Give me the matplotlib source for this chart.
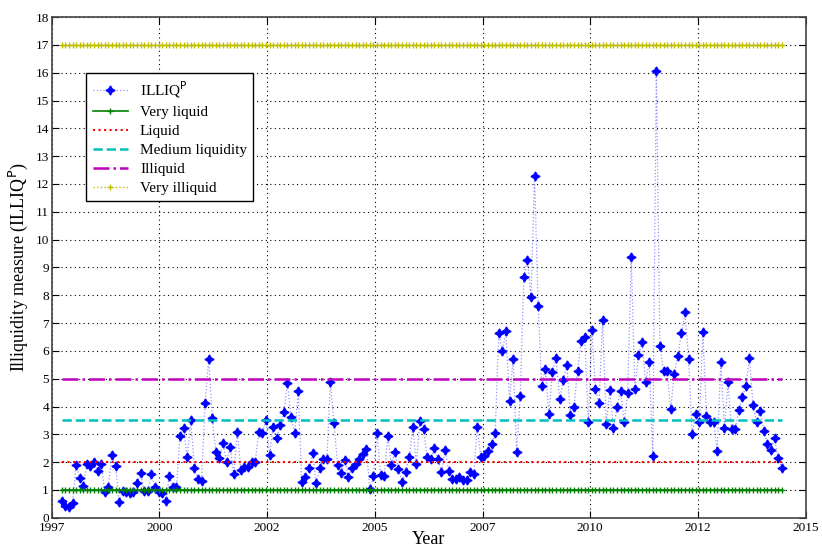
"""Illiquidity measure ILLIQ^P with liquidity class thresholds
"""
import numpy as np
import matplotlib
matplotlib.use("Agg")
import matplotlib.pyplot as plt

plt.rcParams['font.family'] = ['Liberation Serif', 'DejaVu Serif']

# monthly ILLIQ^P values
illiq = [
    0.60, 0.44, 0.40, 0.53, 1.90, 1.43, 1.13, 1.93, 1.87, 1.99, 1.69, 1.93, 0.92, 1.12, 2.27, 1.87,
    0.58, 0.98, 0.92, 0.88, 0.92, 1.24, 1.61, 0.95, 0.98, 1.57, 1.10, 0.93, 0.88, 0.62, 1.49,
    1.10, 1.10, 2.95, 3.21, 2.17, 3.51, 1.78, 1.39, 1.33, 4.11, 5.71, 3.60, 2.37, 2.15, 2.68, 2.00,
    2.55, 1.57, 3.10, 1.73, 1.81, 1.81, 1.99, 1.99, 3.10, 3.04, 3.53, 2.26, 3.27, 2.88, 3.32, 3.80, 4.85,
    3.62, 3.03, 4.56, 1.28, 1.48, 1.78, 2.32, 1.24, 1.79, 2.11, 2.11, 4.89, 3.42, 1.91, 1.61, 2.09,
    1.45, 1.79, 1.95, 2.13, 2.31, 2.49, 1.05, 1.49, 3.06, 1.55, 1.49, 2.94, 1.91, 2.35, 1.75, 1.30, 1.66,
    2.17, 3.25, 1.93, 3.49, 3.19, 2.19, 2.11, 2.51, 2.13, 1.63, 2.43, 1.69, 1.41, 1.41, 1.45, 1.35,
    1.35, 1.63, 1.57, 3.25, 2.17, 2.21, 2.41, 2.65, 3.03, 6.64, 6.01, 6.70, 4.21, 5.71, 2.37, 4.39, 8.67,
    9.27, 7.95, 12.27, 7.60, 4.75, 5.35, 3.73, 5.25, 5.74, 4.27, 4.95, 5.50, 3.71, 3.97, 5.29, 6.34,
    6.49, 3.43, 6.75, 4.63, 4.11, 7.11, 3.37, 4.59, 3.21, 3.97, 4.57, 3.43, 4.48, 9.36, 4.63, 5.85, 6.31,
    4.89, 5.59, 2.21, 16.08, 6.16, 5.29, 5.26, 3.91, 5.17, 5.83, 6.63, 7.39, 5.71, 3.01, 3.73, 3.45,
    6.69, 3.67, 3.45, 3.45, 2.41, 5.61, 3.21, 4.87, 3.19, 3.19, 3.87, 4.33, 4.75, 5.74, 4.05, 3.43,
    3.85, 3.13, 2.67, 2.43, 2.87, 2.15, 1.79,
]
start_year = 1997.24
end_year = 2014.43

# liquidity class thresholds
very_liquid = 1
liquid = 2
medium = 3.5
illiquid = 5
very_illiquid = 17

xtick_labels = ['1997', '2000', '2002', '2005', '2007', '2010', '2012', '2015']

t = np.linspace(start_year, end_year, len(illiq))
ones = np.ones(len(t))

fig = plt.figure(figsize=(8.22, 5.52), dpi=100)
ax = fig.add_axes([0.063, 0.062, 0.917, 0.907])

ax.plot(t, illiq, ':', color=(0.3, 0.3, 1.0, 0.6), linewidth=0.9,
        marker=(4, 1, 0), markersize=6.5, markerfacecolor='blue',
        markeredgecolor='blue', markeredgewidth=1.0, label=r'ILLIQ$^{\mathrm{P}}$')
ax.plot(t, very_liquid * ones, '-', color=(0, 0.5, 0), linewidth=1.2,
        marker='+', markersize=5, label='Very liquid')
ax.plot(t, liquid * ones, ':', color='red', linewidth=1.5, label='Liquid')
ax.plot(t, medium * ones, '--', color=(0, 0.75, 0.75), linewidth=1.8,
        label='Medium liquidity')
ax.plot(t, illiquid * ones, '-.', color=(0.75, 0, 0.75), linewidth=1.8,
        label='Illiquid')
ax.plot(t, very_illiquid * ones, ':', color=(0.75, 0.75, 0), linewidth=1.0,
        marker='+', markersize=5, label='Very illiquid')

ax.set_xlim(1997, 2015)
ax.set_ylim(0, 18)
ax.set_xticks(np.linspace(1997, 2015, len(xtick_labels)))
ax.set_xticklabels(xtick_labels)
ax.set_yticks(range(0, 19))
ax.tick_params(direction='in', top=True, right=True, labelsize=9.5, length=5, pad=2)
ax.tick_params(axis='x', pad=3)
ax.grid(True, color='black', linestyle=(0, (1, 3)), linewidth=0.8)
for s in ax.spines.values():
    s.set_color('#444444')
    s.set_linewidth(1.2)

ax.set_xlabel('Year', fontsize=13, labelpad=-2)
ax.set_ylabel(r'Illiquidity measure (ILLIQ$^{\mathrm{P}}$)', fontsize=13, labelpad=4)

leg = ax.legend(loc='upper left', bbox_to_anchor=(0.046, 0.888), borderaxespad=0,
                fontsize=11, fancybox=False, framealpha=1, edgecolor='black',
                handlelength=2.3, labelspacing=0.35)
leg.get_frame().set_linewidth(1.0)

plt.savefig('out.png', dpi=100)
